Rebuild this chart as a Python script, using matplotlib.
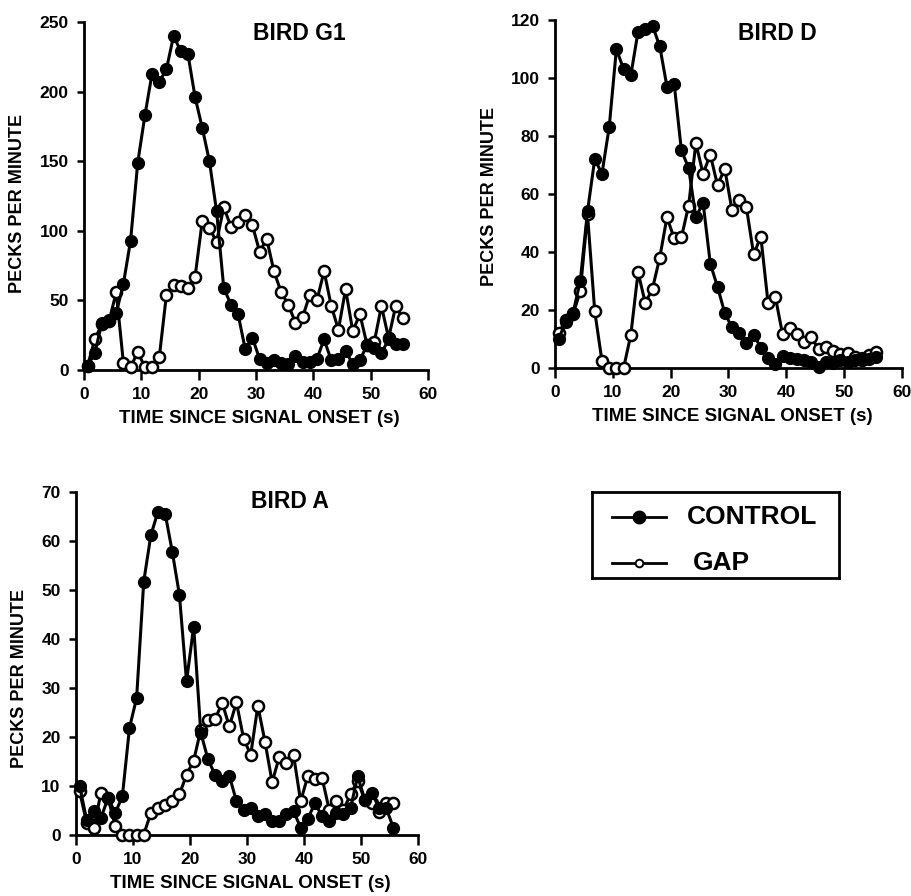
import numpy as np
import matplotlib
matplotlib.use("Agg")
import matplotlib.pyplot as plt
from matplotlib.lines import Line2D

plt.rcParams['font.family'] = ['Liberation Sans', 'DejaVu Sans']
plt.rcParams['font.weight'] = 'bold'

# 45 bins of 1.25 s after signal onset; points sit at bin centres
BIN_S = 1.25
time_s = BIN_S * (np.arange(45) + 0.5)

# Pecks per minute, bird G1
g1_control = [3, 12, 34, 36, 41, 62, 93, 149, 183, 213, 207, 216, 240, 229, 227,
              196, 174, 150, 114, 59, 47, 40, 15, 23, 8, 5, 7, 5, 4, 10,
              6, 6, 8, 22, 7, 8, 14, 4, 7, 18, 16, 12, 22, 19, 19]
g1_gap = [3, 22, 33, 35, 56, 5, 2, 13, 2, 2, 9, 54, 61, 60, 59,
          67, 107, 102, 92, 117, 103, 106, 111, 104, 85, 94, 71, 56, 47, 34,
          38, 54, 50, 71, 46, 29, 58, 28, 40, 18, 20, 46, 23, 46, 37]

# Pecks per minute, bird D
d_control = [10, 16, 19, 30, 54, 72, 67, 83, 110, 103, 101, 116, 117, 118, 111,
             97, 98, 75, 69, 52, 57, 36, 28, 19, 14, 12, 8.5, 11.5, 7, 3.5,
             1.5, 4, 3.3, 3, 2.8, 2.2, 0.3, 2.2, 1.6, 2.8, 2.2, 2.8, 3.3, 3, 3.8]
d_gap = [12, 16.5, 18.5, 26.5, 53, 19.6, 2.4, 0, 0, 0, 11.5, 33, 22.4, 27.4, 38,
         52, 44.7, 45, 56, 77.5, 67, 73.6, 63, 68.7, 54.5, 58, 55.4, 39.2, 45.3, 22.3,
         24.6, 11.7, 13.7, 11.7, 9.1, 10.6, 6.4, 7.4, 6, 4.8, 5.1, 3.7, 2.8, 4.4, 5.6]

# Pecks per minute, bird A
a_control = [10, 2.9, 4.8, 3.4, 7.5, 4.4, 7.8, 21.8, 27.9, 51.7, 61.2, 66, 65.6, 57.8, 49,
             31.3, 42.5, 20.8, 15.4, 12.2, 10.9, 12, 6.8, 5.1, 5.5, 3.7, 4.1, 2.7, 2.7, 4.1,
             4.8, 1.4, 3.1, 6.5, 3.7, 2.7, 4.4, 4.1, 5.4, 11.9, 7.1, 8.5, 5.4, 5.4, 1.4]
a_gap = [8.8, 2.4, 1.4, 8.5, 7.5, 1.7, 0, 0, 0, 0, 4.4, 5.4, 6.1, 6.8, 8.2,
         12.2, 15.1, 21.4, 23.3, 23.6, 26.9, 22.1, 27, 19.6, 16.3, 26.3, 19, 10.7, 15.8, 14.6,
         16.3, 6.8, 11.9, 11.3, 11.6, 5.1, 6.8, 5, 8.2, 11, 7, 6.5, 4.5, 6.5, 6.5]

W, H = 911, 896
fig = plt.figure(figsize=(W / 100, H / 100), dpi=100)


def box(x0, x1, y_bottom, y_top):
    """Pixel box -> figure-fraction rectangle."""
    return [x0 / W, 1 - y_bottom / H, (x1 - x0) / W, (y_bottom - y_top) / H]


def panel(rect, control, gap, ymax, ystep, title, title_xy, ylab_xy, xlab_y):
    ax = fig.add_axes(rect)
    ax.plot(time_s, gap, '-o', color='black', lw=2.2, ms=8, mfc='white',
            mec='black', mew=1.8, zorder=3, clip_on=False)
    ax.plot(time_s, control, '-o', color='black', lw=2.2, ms=8.5, mfc='black',
            mec='black', zorder=4, clip_on=False)
    ax.set_xlim(0, 60)
    ax.set_ylim(0, ymax)
    ax.set_xticks(np.arange(0, 61, 10))
    ax.set_yticks(np.arange(0, ymax + 1, ystep))
    for s in ('top', 'right'):
        ax.spines[s].set_visible(False)
    for s in ('left', 'bottom'):
        ax.spines[s].set_linewidth(2.0)
    ax.tick_params(axis='x', direction='out', length=7.5, width=1.8, pad=5,
                   labelsize=12.5)
    ax.tick_params(axis='y', direction='out', length=5, width=1.8, pad=6,
                   labelsize=12.5)
    ax.text(title_xy[0], title_xy[1], title, transform=ax.transAxes,
            ha='center', va='center', fontsize=16.5, fontweight='bold')
    ax.text(ylab_xy[0], ylab_xy[1], 'PECKS PER MINUTE', transform=ax.transAxes,
            rotation=90, ha='center', va='center', fontsize=13, fontweight='bold')
    ax.text(0.51, xlab_y, 'TIME SINCE SIGNAL ONSET (s)', transform=ax.transAxes,
            ha='center', va='center', fontsize=13.5, fontweight='bold')
    return ax


panel(box(84, 428, 370, 22), g1_control, g1_gap, 250, 50, 'BIRD G1',
      (0.625, 0.966), (-0.192, 0.48), -0.138)
panel(box(555, 901.7, 368, 20), d_control, d_gap, 120, 20, 'BIRD D',
      (0.64, 0.96), (-0.1875, 0.494), -0.138)
panel(box(76, 418.3, 834.5, 492), a_control, a_gap, 70, 10, 'BIRD A',
      (0.625, 0.971), (-0.164, 0.457), -0.1445)

# Legend box
leg = fig.add_axes(box(592, 839, 578, 492))
leg.set_xlim(0, 1)
leg.set_ylim(0, 1)
leg.set_xticks([])
leg.set_yticks([])
for s in leg.spines.values():
    s.set_linewidth(2.0)
leg.add_line(Line2D([0.08, 0.30], [0.713, 0.713], color='black', lw=2.0))
leg.plot([0.19], [0.713], 'o', color='black', ms=9)
leg.add_line(Line2D([0.08, 0.30], [0.178, 0.178], color='black', lw=2.0))
leg.plot([0.19], [0.178], 'o', mfc='white', mec='black', mew=1.4, ms=5.5)
leg.text(0.383, 0.713, 'CONTROL', ha='left', va='center', fontsize=19,
         fontweight='bold')
leg.text(0.41, 0.178, 'GAP', ha='left', va='center', fontsize=19,
         fontweight='bold')

fig.savefig('out.png', dpi=100)
